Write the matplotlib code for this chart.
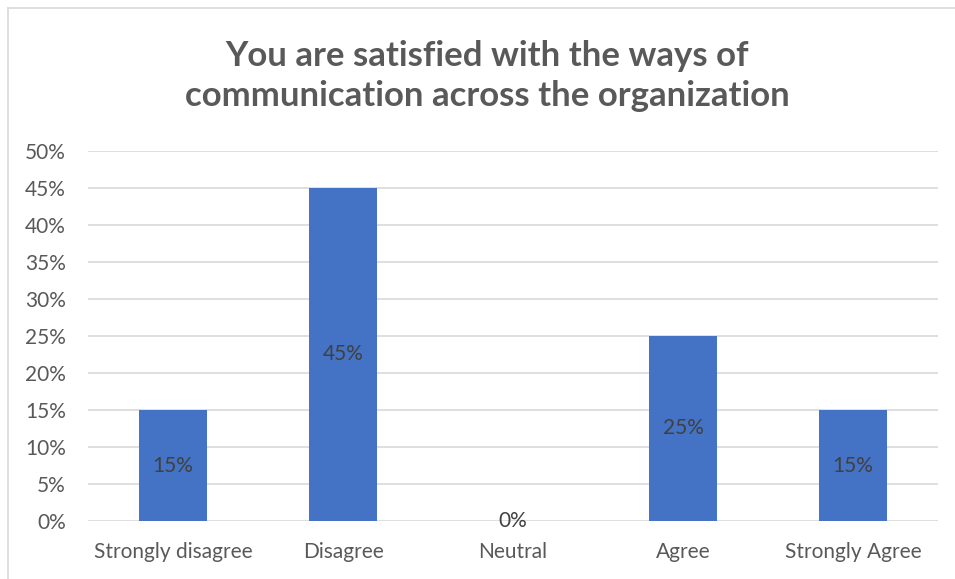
import matplotlib
matplotlib.use("Agg")
import matplotlib.pyplot as plt
from matplotlib.lines import Line2D

categories = ["Strongly disagree", "Disagree", "Neutral", "Agree", "Strongly Agree"]
values = [0.15, 0.45, 0.00, 0.25, 0.15]
yticks = [0.0, 0.05, 0.10, 0.15, 0.20, 0.25, 0.30, 0.35, 0.40, 0.45, 0.50]
title = "You are satisfied with the ways of\ncommunication across the organization"

W, H = 955, 579
plt.rcParams["font.family"] = ["Lato", "DejaVu Sans"]

fig = plt.figure(figsize=(W / 100, H / 100), dpi=100)
fig.patch.set_facecolor("white")

# chart frame (left and top edges)
fig.add_artist(Line2D([7.5 / W, 7.5 / W], [0, 1 - 7.5 / H], color="#d9d9d9", lw=1.2))
fig.add_artist(Line2D([7.5 / W, 1], [1 - 7.5 / H, 1 - 7.5 / H], color="#d9d9d9", lw=1.2))

ax = fig.add_axes([88 / W, 58 / H, 850 / W, 370 / H])
x = list(range(len(categories)))
bars = ax.bar(x, values, width=0.4, color="#4472C4", zorder=3)

ax.set_xlim(-0.5, len(categories) - 0.5)
ax.set_ylim(0, 0.5)
ax.set_yticks(yticks)
ax.set_yticklabels([f"{round(v * 100)}%" for v in yticks])
ax.set_xticks(x)
ax.set_xticklabels(categories)
ax.tick_params(axis="both", length=0, colors="#595959", labelsize=15)
ax.tick_params(axis="y", pad=16)
ax.tick_params(axis="x", pad=15)
ax.grid(axis="y", color="#d9d9d9", lw=1.2, zorder=0)
for s in ax.spines.values():
    s.set_visible(False)

for rect, v in zip(bars, values):
    ax.text(rect.get_x() + rect.get_width() / 2, v / 2, f"{round(v * 100)}%",
            ha="center", va="center", color="#404040", fontsize=15, zorder=4)

fig.text(487 / W, 1 - 76 / H, title, ha="center", va="center",
         fontsize=25, fontweight="bold", color="#595959", linespacing=1.3)

fig.savefig("out.png", dpi=100)
